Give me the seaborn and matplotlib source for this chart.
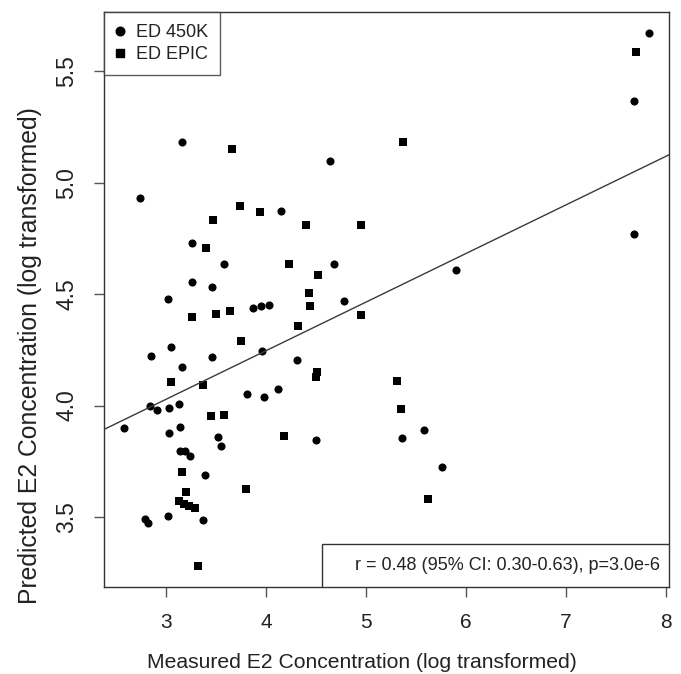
import matplotlib
matplotlib.use("Agg")
import matplotlib.pyplot as plt
import seaborn as sns
import pandas as pd
from matplotlib.patches import Rectangle
from matplotlib.lines import Line2D

# ---- data ----
x_450k = [3.157, 4.64, 2.743, 4.15, 3.26, 3.58, 4.677, 3.257, 3.463, 3.023,
          4.783, 3.873, 3.95, 4.027, 3.05, 3.96, 2.85, 3.463, 4.31, 3.16,
          4.117, 3.807, 3.977, 2.837, 2.907, 3.027, 3.127, 2.583, 3.137, 3.033,
          3.517, 4.50, 3.55, 3.143, 3.19, 3.237, 3.387, 2.79, 2.823, 3.02,
          3.367, 7.827, 7.683, 7.683, 5.90, 5.357, 5.583, 5.757]
y_450k = [5.18, 5.095, 4.929, 4.874, 4.727, 4.636, 4.636, 4.555, 4.530, 4.48,
          4.47, 4.439, 4.445, 4.451, 4.264, 4.244, 4.22, 4.217, 4.203, 4.173,
          4.075, 4.052, 4.04, 3.996, 3.982, 3.99, 4.009, 3.90, 3.902, 3.877,
          3.86, 3.847, 3.82, 3.795, 3.795, 3.772, 3.688, 3.49, 3.472, 3.503,
          3.487, 5.67, 5.364, 4.768, 4.608, 3.854, 3.89, 3.723]

x_epic = [3.657, 3.737, 3.943, 3.473, 4.403, 4.947, 3.40, 4.233, 4.523, 4.43,
          4.443, 3.263, 3.50, 3.643, 4.947, 4.323, 3.75, 4.513, 4.503, 3.053,
          3.373, 3.45, 3.583, 4.18, 3.16, 3.80, 3.203, 3.13, 3.177, 3.227,
          3.29, 3.323, 7.70, 5.37, 5.313, 5.35, 5.62]
y_epic = [5.149, 4.893, 4.866, 4.833, 4.808, 4.808, 4.705, 4.633, 4.584, 4.503,
          4.448, 4.397, 4.409, 4.425, 4.406, 4.355, 4.291, 4.152, 4.128, 4.104,
          4.093, 3.951, 3.956, 3.862, 3.70, 3.624, 3.611, 3.572, 3.557, 3.549,
          3.542, 3.279, 5.584, 5.183, 4.11, 3.986, 3.581]

groups = ["ED 450K", "ED EPIC"]
fit_intercept = 3.374
fit_slope = 0.218
stats_text = "r = 0.48 (95% CI: 0.30-0.63), p=3.0e-6"
x_ticks = [3, 4, 5, 6, 7, 8]
y_ticks = [3.5, 4.0, 4.5, 5.0, 5.5]
x_label = "Measured E2 Concentration (log transformed)"
y_label = "Predicted E2 Concentration (log transformed)"

df = pd.DataFrame({
    "measured": x_450k + x_epic,
    "predicted": y_450k + y_epic,
    "group": [groups[0]] * len(x_450k) + [groups[1]] * len(x_epic),
})

sns.set_theme(style="white")
plt.rcParams["font.family"] = ["Liberation Sans", "DejaVu Sans"]

fig = plt.figure(figsize=(6.81, 6.74), dpi=100)
ax = fig.add_axes([0.1527, 0.129, 0.8297, 0.8532])

sns.scatterplot(data=df[df.group == groups[0]], x="measured", y="predicted",
                marker="o", color="black", s=34, linewidth=0, ax=ax, legend=False)
sns.scatterplot(data=df[df.group == groups[1]], x="measured", y="predicted",
                marker="s", color="black", s=30, linewidth=0, ax=ax, legend=False)

ax.set_xlim(2.38, 8.03)
ax.set_ylim(3.186, 5.765)
ax.axline((0, fit_intercept), slope=fit_slope, color="#3a3a3a", lw=1.0)

ax.set_xticks(x_ticks)
ax.set_xticklabels([str(t) for t in x_ticks])
ax.set_yticks(y_ticks)
ax.set_yticklabels([f"{t:.1f}" for t in y_ticks], rotation=90, va="center")
ax.tick_params(axis="both", which="major", direction="out", length=7,
               width=1.0, color="#555555", labelcolor="#222222",
               bottom=True, left=True)
ax.tick_params(axis="x", pad=11.5, labelsize=15)
ax.tick_params(axis="y", pad=11.5, labelsize=16.5)
ax.set_xlabel(x_label, fontsize=15.2, color="#222222")
ax.set_ylabel(y_label, fontsize=17.8, color="#222222")
ax.xaxis.set_label_coords(0.457, -0.114)
ax.yaxis.set_label_coords(-0.11, 0.402)
for sp in ax.spines.values():
    sp.set_color("#333333")
    sp.set_linewidth(1.0)

# legend
handles = [Line2D([], [], marker="o", color="black", linestyle="", markersize=6.2),
           Line2D([], [], marker="s", color="black", linestyle="", markersize=5.6)]
leg = ax.legend(handles, groups, loc="upper left", borderaxespad=0, fontsize=13,
                frameon=True, fancybox=False, handlelength=0.5, handletextpad=0.6,
                borderpad=0.66, labelspacing=0.28)
leg.get_frame().set_edgecolor("#333333")
leg.get_frame().set_linewidth(1.0)
for t in leg.get_texts():
    t.set_color("#222222")

# stats box (lower right)
ax.add_patch(Rectangle((0.385, 0.0), 0.615, 0.0748, transform=ax.transAxes,
                       facecolor="white", edgecolor="#333333", lw=1.0, zorder=5))
ax.text(0.984, 0.0374, stats_text, transform=ax.transAxes, ha="right",
        va="center", fontsize=13, color="#222222", zorder=6)

fig.savefig("out.png", dpi=100)
